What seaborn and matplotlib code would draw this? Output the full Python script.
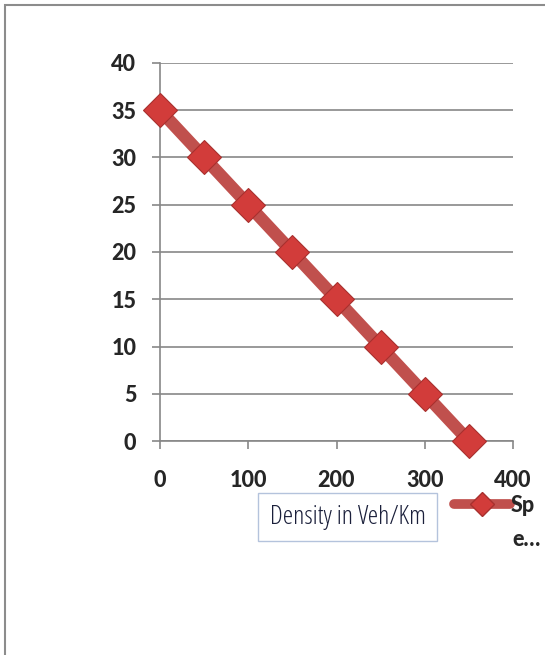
import matplotlib
matplotlib.use("Agg")
import matplotlib.pyplot as plt
import seaborn as sns
import pandas as pd
from matplotlib.patches import Rectangle
from matplotlib.lines import Line2D

density = [0, 50, 100, 150, 200, 250, 300, 350]
speed = [35, 30, 25, 20, 15, 10, 5, 0]
x_ticks = [0, 100, 200, 300, 400]
y_ticks = [0, 5, 10, 15, 20, 25, 30, 35, 40]
series_label = "Sp"
series_label_rest = "e…"
x_title = "Density in Veh/Km"

sns.set_style("white")
plt.rcParams['font.family'] = ['Lato', 'DejaVu Sans']
W = "black"

df = pd.DataFrame({"Density": density, "Speed": speed})

fig = plt.figure(figsize=(5.45, 6.55), dpi=100)
ax = fig.add_axes([160/545, 1-441/655, (513-160)/545, (441-63)/655])

red = "#C0504D"
sns.lineplot(data=df, x="Density", y="Speed", ax=ax, color=red, linewidth=9,
             marker="D", markersize=17.5, markerfacecolor="#D23C3A",
             markeredgecolor="#A8302E", markeredgewidth=0.8, legend=False, zorder=3)

ax.set_xlim(0, 400)
ax.set_ylim(0, 40)
ax.set_xticks(x_ticks)
ax.set_yticks(y_ticks)
ax.set_xticklabels([str(t) for t in x_ticks], fontsize=15.5, fontweight=W)
ax.set_yticklabels([str(t) for t in y_ticks], fontsize=15.5, fontweight=W)
ax.grid(axis="y", color="#878787", linewidth=1.2)
ax.grid(axis="x", visible=False)
for s in ["top", "right"]:
    ax.spines[s].set_visible(False)
ax.spines["left"].set_color("#878787")
ax.spines["bottom"].set_color("#878787")
ax.spines["left"].set_linewidth(1.2)
ax.spines["bottom"].set_linewidth(1.2)
ax.tick_params(axis="both", direction="out", length=6, width=1.2, color="#878787",
               bottom=True, left=True)
ax.tick_params(axis="y", pad=11)
ax.tick_params(axis="x", pad=15)
ax.set_xlabel("")
ax.set_ylabel("")
for sp in ax.spines.values():
    sp.set_clip_on(False)
ax.get_lines()[0].set_clip_on(False)

# outer frame
fig.patches.append(Rectangle((5/545, -0.01), 1.2, 1 - 5/655 + 0.01, transform=fig.transFigure,
                             fill=False, edgecolor="#8C8C8C", linewidth=1.5))

# axis title box
fig.text((258+437)/2/545, 1-517/655, x_title, ha="center", va="center",
         fontsize=19, family=["Open Sans", "DejaVu Sans"], fontstretch="condensed",
         fontweight="normal", color="#1A1F3A",
         bbox=dict(boxstyle="square,pad=0.45", facecolor="white", edgecolor="#B4C3DC", linewidth=1))

# legend
handle = Line2D([], [], color=red, linewidth=7, marker="D", markersize=12,
                markerfacecolor="#D23C3A", markeredgecolor="#A8302E", solid_capstyle="round")
fig.legend([handle], [series_label], loc="center left", bbox_to_anchor=(454/545, 1-505/655),
           frameon=False, handlelength=2.6, handletextpad=0.05, borderpad=0, borderaxespad=0,
           prop={"weight": W, "size": 15.5})
fig.text(512/545, 1-540/655, series_label_rest, ha="left", va="center",
         fontsize=15.5, fontweight=W)

fig.savefig("out.png", dpi=100)
